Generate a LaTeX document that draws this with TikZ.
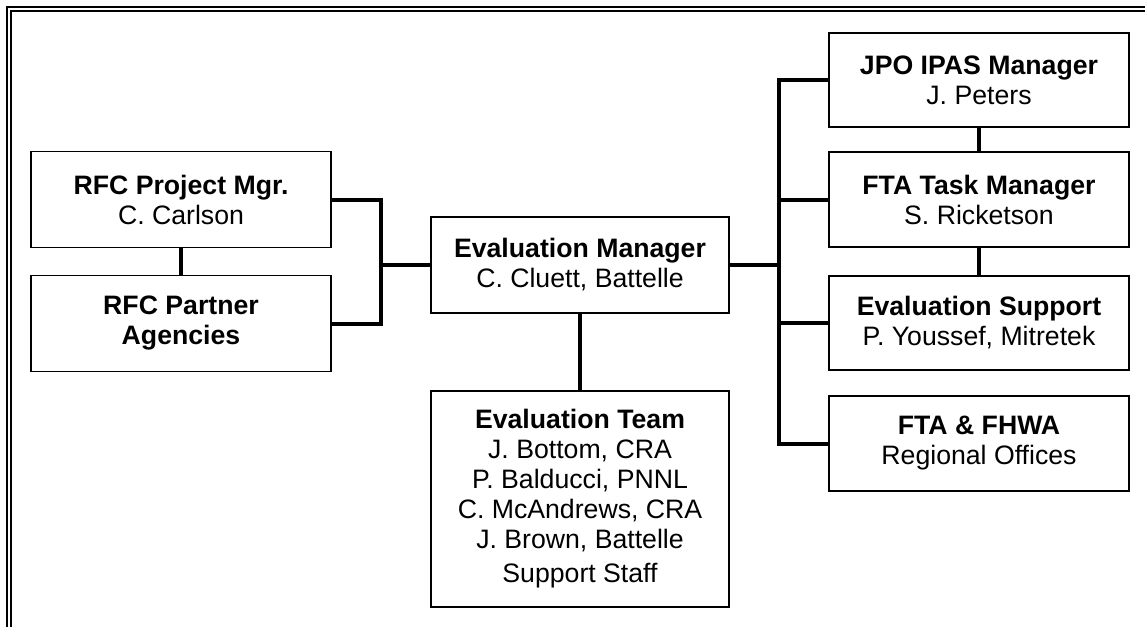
\documentclass[tikz,border=0pt]{standalone}
\usepackage{fontspec}
\setmainfont{Liberation Sans}
\usepackage{tikz}

\begin{document}
\begin{tikzpicture}[x=0.75pt, y=-0.75pt,
  box/.style={draw, line width=1.3pt, minimum width=225pt, minimum height=72pt, align=center, inner sep=0pt, outer sep=0pt,
    font=\fontsize{20}{22.5}\selectfont},
  link/.style={line width=3pt},
  frame/.style={line width=1.1pt}]
\useasboundingbox (0,0) rectangle (1145,626);
\draw[frame] (7,700) -- (7,7) -- (1200,7);
\draw[frame] (11,700) -- (11,11) -- (1200,11);

\node[box] (rfcpm) at (181,199.5) {\textbf{RFC Project Mgr.}\\C. Carlson};
\node[box] (rfcpa) at (181,323.5) {\textbf{RFC Partner}\\\textbf{Agencies}};
\node[box, minimum width=223.5pt] (evalmgr) at (580,265) {\textbf{Evaluation Manager}\\C. Cluett, Battelle};
\node[box, minimum width=223.5pt, minimum height=162pt] (evalteam) at (580,499) {\textbf{Evaluation Team}\\J. Bottom, CRA\\P. Balducci, PNNL\\C. McAndrews, CRA\\J. Brown, Battelle\\[3pt]Support Staff};
\node[box, minimum height=71pt] (jpo) at (979,80) {\textbf{JPO IPAS Manager}\\J. Peters};
\node[box, minimum height=71pt] (ftatask) at (979,199.5) {\textbf{FTA Task Manager}\\S. Ricketson};
\node[box, minimum height=71pt] (evalsup) at (979,323) {\textbf{Evaluation Support}\\P. Youssef, Mitretek};
\node[box, minimum height=71pt] (ftafhwa) at (979,443.5) {\textbf{FTA \& FHWA}\\Regional Offices};

\coordinate (lbar) at (381,265);
\coordinate (rbar) at (779,265);

\draw[link] (rfcpm) -- (rfcpa);
\draw[link] (rfcpm.east) -| (lbar) |- (rfcpa.east);
\draw[link] (lbar) -- (evalmgr.west);
\draw[link] (evalmgr.south) -- (evalteam.north);
\draw[link] (evalmgr.east) -- (rbar);
\draw[link] (jpo.west) -| (rbar) |- (ftafhwa.west);
\draw[link] (ftatask.west) -- (ftatask.west -| rbar);
\draw[link] (evalsup.west) -- (evalsup.west -| rbar);
\draw[link] (jpo) -- (ftatask);
\draw[link] (ftatask) -- (evalsup);
\end{tikzpicture}
\end{document}
